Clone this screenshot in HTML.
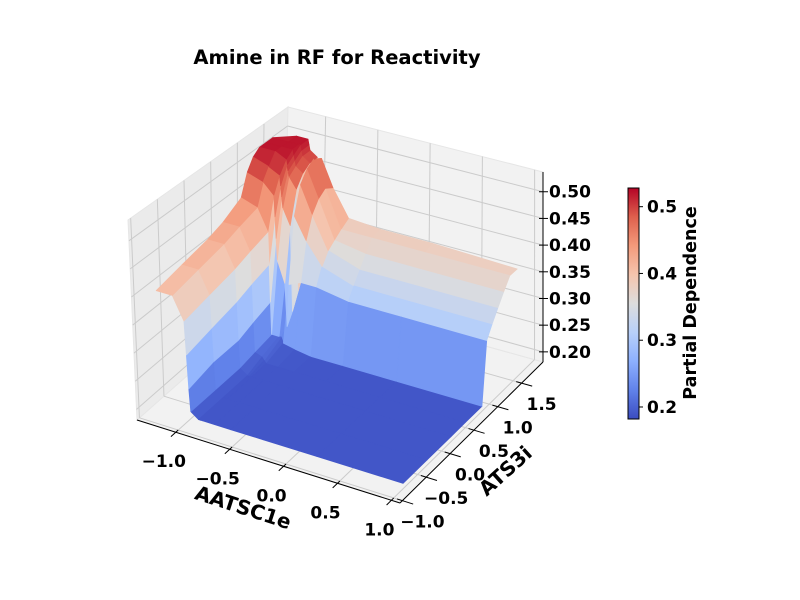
<!DOCTYPE html>
<html><head><meta charset="utf-8">
<style>
html,body{margin:0;padding:0;background:#fff;}
svg{display:block;font-family:"DejaVu Sans","Liberation Sans",sans-serif;font-weight:bold;}
</style></head>
<body>
<svg id="chart" width="800" height="600" viewBox="0 0 800 600" xmlns="http://www.w3.org/2000/svg">
<text x="337" y="64" text-anchor="middle" font-size="19.5">Amine in RF for Reactivity</text>
<g id="panes"></g>
<g id="grid"></g>
<g id="surface"></g>
<g id="axes"></g>
<g id="cbar"></g>
<text transform="translate(241,514) rotate(18)" text-anchor="middle" font-size="20">AATSC1e</text>
<text transform="translate(510,476) rotate(-42)" text-anchor="middle" font-size="20">ATS3i</text>
<text transform="translate(696,303) rotate(-90)" text-anchor="middle" font-size="17.5">Partial Dependence</text>
</svg>
<script>
// ---- data ----
const xGrid = [-1.25,-1.1,-1.0,-0.99,-0.98,-0.97,-0.9,-0.88,-0.86,-0.75,-0.6,-0.3,0.2,1.0];
const yGrid = [-0.8,-0.3,0.2,0.5,0.85,0.97,1.08,1.2,1.32,1.45,1.6];
const zRows = [
 [0.40,0.40,0.36,0.30,0.24,0.20,0.19,0.19,0.19,0.19,0.19,0.19,0.19,0.19],
 [0.41,0.41,0.37,0.31,0.25,0.20,0.19,0.19,0.19,0.19,0.19,0.19,0.19,0.19],
 [0.42,0.42,0.38,0.32,0.25,0.20,0.19,0.19,0.19,0.19,0.19,0.19,0.19,0.19],
 [0.43,0.43,0.39,0.33,0.26,0.205,0.20,0.195,0.19,0.19,0.19,0.19,0.19,0.19],
 [0.45,0.44,0.40,0.34,0.27,0.21,0.21,0.21,0.20,0.195,0.19,0.19,0.19,0.19],
 [0.49,0.48,0.46,0.42,0.38,0.34,0.30,0.22,0.30,0.31,0.31,0.30,0.30,0.30],
 [0.51,0.50,0.49,0.47,0.45,0.43,0.40,0.24,0.42,0.38,0.34,0.32,0.32,0.32],
 [0.52,0.52,0.51,0.50,0.49,0.48,0.46,0.27,0.47,0.42,0.36,0.34,0.34,0.34],
 [0.52,0.52,0.52,0.51,0.50,0.49,0.48,0.30,0.49,0.44,0.37,0.36,0.36,0.36],
 [0.52,0.52,0.52,0.52,0.51,0.50,0.49,0.33,0.50,0.45,0.38,0.38,0.38,0.38],
 [0.51,0.52,0.52,0.52,0.51,0.50,0.49,0.36,0.49,0.44,0.39,0.385,0.385,0.38]
];
const xTicks = [-1.0,-0.5,0.0,0.5,1.0];
const yTicks = [-1.0,-0.5,0.0,0.5,1.0,1.5];
const zTicks = [0.20,0.25,0.30,0.35,0.40,0.45,0.50];
const cbTicks = [0.2,0.3,0.4,0.5];

// ---- axes setup ----
const XR=[-1.36,1.08], YR=[-1.05,1.95], ZR=[0.181,0.537];
const CMIN=0.182, CMAX=0.528;
const B00=[137,420],B10=[400,503],B11=[543,362],B01=[284,290];
const T00=[128,220],T10=[390,298],T11=[543,172],T01=[288,107];
function bil(P00,P10,P11,P01,u,v){
  return [ (1-u)*(1-v)*P00[0]+u*(1-v)*P10[0]+u*v*P11[0]+(1-u)*v*P01[0],
           (1-u)*(1-v)*P00[1]+u*(1-v)*P10[1]+u*v*P11[1]+(1-u)*v*P01[1] ];
}
function nx(x){return (x-XR[0])/(XR[1]-XR[0]);}
function ny(y){return (y-YR[0])/(YR[1]-YR[0]);}
function nz(z){return (z-ZR[0])/(ZR[1]-ZR[0]);}
function P(x,y,z){
  const u=nx(x),v=ny(y),w=nz(z);
  const b=bil(B00,B10,B11,B01,u,v), t=bil(T00,T10,T11,T01,u,v);
  return [b[0]+(t[0]-b[0])*w, b[1]+(t[1]-b[1])*w];
}
const stops=[[59,76,192],[97,130,234],[141,176,254],[184,208,249],[221,221,221],[245,196,173],[244,154,123],[222,96,77],[180,4,38]];
function cmap(t){
  t=Math.max(0,Math.min(1,t));const s=t*8,i=Math.min(7,Math.floor(s)),f=s-i;
  const a=stops[i],b=stops[i+1];
  return 'rgb('+[0,1,2].map(k=>Math.round(a[k]+(b[k]-a[k])*f)).join(',')+')';
}
const NS='http://www.w3.org/2000/svg';
function mk(tag,attrs,parent){const e=document.createElementNS(NS,tag);for(const k in attrs)e.setAttribute(k,attrs[k]);parent.appendChild(e);return e;}
function pts(a){return a.map(p=>p[0].toFixed(1)+','+p[1].toFixed(1)).join(' ');}

// panes
const panes=document.getElementById('panes');
let e;
e=mk('polygon',{points:pts([B00,B10,B11,B01]),fill:'#f2f2f2',stroke:'#e6e6e6'},panes);


e=mk('polygon',{points:pts([B00,B01,T01,T00]),fill:'#ebebeb',stroke:'#e6e6e6'},panes);


e=mk('polygon',{points:pts([B01,B11,T11,T01]),fill:'#f2f2f2',stroke:'#e6e6e6'},panes);



// grid
const grid=document.getElementById('grid');
function gl(a,b,name){const l=mk('line',{x1:a[0],y1:a[1],x2:b[0],y2:b[1],stroke:'#cbcbcb','stroke-width':1},grid);
 
 }
xTicks.forEach(x=>{gl(P(x,YR[0],ZR[0]),P(x,YR[1],ZR[0]),'x-gridline');gl(P(x,YR[1],ZR[0]),P(x,YR[1],ZR[1]),'x-gridline');});
yTicks.forEach(y=>{gl(P(XR[0],y,ZR[0]),P(XR[1],y,ZR[0]),'y-gridline');gl(P(XR[0],y,ZR[0]),P(XR[0],y,ZR[1]),'y-gridline');});
zTicks.forEach(z=>{gl(P(XR[0],YR[0],z),P(XR[0],YR[1],z),'z-gridline');gl(P(XR[0],YR[1],z),P(XR[1],YR[1],z),'z-gridline');});

// surface
const surf=document.getElementById('surface');
const ce=0.866,se=0.5,cax=0.5,say=-0.866;
const quads=[];
for(let j=0;j<yGrid.length-1;j++){for(let i=0;i<xGrid.length-1;i++){
  const c=[[i,j],[i+1,j],[i+1,j+1],[i,j+1]];
  const zs=c.map(([a,b])=>zRows[b][a]);
  const zm=zs.reduce((s,v)=>s+v,0)/4;
  const xm=(xGrid[i]+xGrid[i+1])/2, ym=(yGrid[j]+yGrid[j+1])/2;
  const d=-(ce*(cax*(nx(xm)-0.5)+say*(ny(ym)-0.5))+se*(nz(zm)-0.5));
  quads.push({c,zs,zm,d});
}}
quads.sort((a,b)=>b.d-a.d);
quads.forEach(q=>{
  const p=q.c.map(([a,b],k)=>P(xGrid[a],yGrid[b],q.zs[k]));
  const col=cmap((q.zm-CMIN)/(CMAX-CMIN));
  const poly=mk('polygon',{points:pts(p),fill:col,stroke:col,'stroke-width':0.8,'stroke-linejoin':'round'},surf);
  
  
});

// axes
const ax=document.getElementById('axes');
function al(a,b,name,w){const l=mk('line',{x1:a[0],y1:a[1],x2:b[0],y2:b[1],stroke:'#000','stroke-width':w||1},ax);
 
 }
al(P(XR[0],YR[0],ZR[0]),P(XR[1],YR[0],ZR[0]),'x-axis-line');
al(P(XR[1],YR[0],ZR[0]),P(XR[1],YR[1],ZR[0]),'y-axis-line');
al(P(XR[1],YR[1],ZR[0]),P(XR[1],YR[1],ZR[1]),'z-axis-line');
function lab(txt,x,y,anchor,name){const t=mk('text',{x:x,y:y,'text-anchor':anchor,'font-size':17,'dominant-baseline':'central'},ax);
 t.textContent=txt;
 
 }
function fmt(v,d){return (v<0?'\u2212':'')+Math.abs(v).toFixed(d);}
xTicks.forEach(x=>{
  al(P(x,YR[0]+0.05,ZR[0]),P(x,YR[0]-0.1,ZR[0]),'x-tick');
  const p=P(x,YR[0],ZR[0]);lab(fmt(x,1),p[0]-12,p[1]+30,'middle','x-tick-label');
});
yTicks.forEach(y=>{
  al(P(XR[1]-0.05,y,ZR[0]),P(XR[1]+0.1,y,ZR[0]),'y-tick');
  const p=P(XR[1],y,ZR[0]);lab(fmt(y,1),p[0]+20,p[1]+22,'middle','y-tick-label');
});
zTicks.forEach(z=>{
  const p=P(XR[1],YR[1],z);al([p[0]-4,p[1]],[p[0]+5,p[1]],'z-tick');
  lab(z.toFixed(2),p[0]+6,p[1]+1,'start','z-tick-label');
});

// colorbar
const cb=document.getElementById('cbar');
const defs=mk('defs',{},cb);
const lg=mk('linearGradient',{id:'cw',x1:0,y1:1,x2:0,y2:0},defs);
for(let k=0;k<=8;k++){mk('stop',{offset:k/8,'stop-color':cmap(k/8)},lg);}
const CB={x:628,y0:188,y1:419,w:11};
const r=mk('rect',{x:CB.x,y:CB.y0,width:CB.w,height:CB.y1-CB.y0,fill:'url(#cw)',stroke:'#000','stroke-width':1},cb);


function cy(v){return CB.y1-(v-CMIN)/(CMAX-CMIN)*(CB.y1-CB.y0);}
cbTicks.forEach(v=>{
  const y=cy(v);
  const l=mk('line',{x1:CB.x+CB.w,y1:y,x2:CB.x+CB.w+4,y2:y,stroke:'#000'},cb);
  
  
  const t=mk('text',{x:CB.x+CB.w+8,y:y+1,'font-size':17,'dominant-baseline':'central'},cb);
  t.textContent=v.toFixed(1);
  
  
});
</script>
</body></html>
